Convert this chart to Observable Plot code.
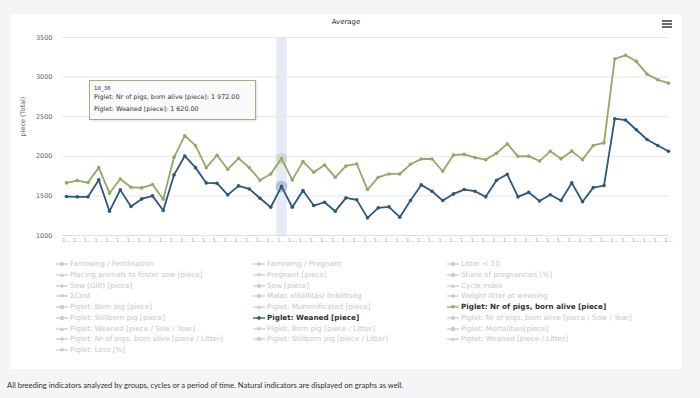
<!DOCTYPE html>
<html>
<head>
<meta charset="utf-8">
<script src="https://cdn.jsdelivr.net/npm/d3@7"></script>
<script src="https://cdn.jsdelivr.net/npm/@observablehq/plot@0.6"></script>
<style>
  html, body { margin: 0; padding: 0; }
  body { width: 700px; height: 398px; background: #f4f5f7; position: relative; overflow: hidden; font-family: "DejaVu Sans", Verdana, sans-serif; }
  #card { position: absolute; left: 10px; top: 14px; width: 672px; height: 355px; background: #ffffff; box-shadow: 0 0 1px rgba(0,0,0,0.06); }
  #chart { position: absolute; left: 0; top: 0; }
  #title { position: absolute; left: 0; width: 692px; top: 18px; text-align: center; font-size: 7px; color: #333; }
  #menu { position: absolute; left: 662px; top: 20px; width: 10px; }
  #menu div { height: 1.6px; background: #666; margin-bottom: 1.4px; }
  #tooltip { position: absolute; left: 89px; top: 80px; width: 165px; height: 38px; border: 1px solid #a3ad83; background: rgba(250,250,250,0.9); box-shadow: 1px 1px 2px rgba(0,0,0,0.12); color: #333; }
  #tooltip .h { position: absolute; left: 4px; top: 4px; font-size: 5.5px; color: #333; }
  #tooltip .l { position: absolute; left: 4px; font-size: 6.4px; white-space: nowrap; color: #333; }
  .leg { position: absolute; font-size: 7.2px; color: #c6c6c6; white-space: nowrap; line-height: 8px; }
  .leg svg { position: absolute; left: 0; top: 0; }
  .leg span { position: absolute; left: 14px; top: 0; }
  .leg.active { color: #333; font-weight: bold; }
  #caption { position: absolute; left: 7px; top: 380px; font-family: Lato, sans-serif; font-size: 7.6px; color: #333; white-space: nowrap; }
</style>
</head>
<body>
<div id="card"></div>
<div id="chart"></div>
<div id="title">Average</div>
<div id="menu"><div></div><div></div><div></div></div>
<div id="tooltip"></div>
<div id="legend"></div>
<div id="caption">All breeding indicators analyzed by groups, cycles or a period of time. Natural indicators are displayed on graphs as well.</div>
<script>
const categories = [
  "18_16","18_17","18_18","18_19","18_20","18_21","18_22","18_23","18_24","18_25",
  "18_26","18_27","18_28","18_29","18_30","18_31","18_32","18_33","18_34","18_35",
  "18_36","18_37","18_38","18_39","18_40","18_41","18_42","18_43","18_44","18_45",
  "18_46","18_47","18_48","18_49","18_50","18_51","18_52","19_01","19_02","19_03",
  "19_04","19_05","19_06","19_07","19_08","19_09","19_10","19_11","19_12","19_13",
  "19_14","19_15","19_16","19_17","19_18","19_19","19_20"
];
const bornAlive = [
  1664,1693,1668,1857,1534,1714,1609,1601,1643,1458,
  1987,2260,2134,1857,2013,1836,1975,1857,1698,1777,
  1972,1702,1933,1798,1891,1735,1878,1903,1580,1735,
  1777,1777,1899,1966,1966,1811,2017,2025,1983,1958,
  2038,2157,2000,2002,1940,2063,1968,2065,1958,2137,
  2169,3229,3275,3199,3038,2966,2924
];
const weaned = [
  1492,1488,1488,1702,1307,1576,1366,1462,1500,1315,
  1765,2004,1857,1664,1660,1513,1626,1588,1471,1357,
  1620,1357,1567,1378,1420,1307,1475,1450,1223,1349,
  1362,1231,1441,1639,1559,1441,1525,1580,1559,1488,
  1698,1773,1488,1544,1435,1515,1441,1664,1427,1605,
  1630,2475,2458,2335,2212,2136,2064
];
const seriesNames = ["Piglet: Nr of pigs, born alive [piece]", "Piglet: Weaned [piece]"];
const seriesColors = ["#90aa66", "#2d5878"];
const yTicks = [1000, 1500, 2000, 2500, 3000, 3500];
const hoverCategory = "18_36";
const legendItems = [
  "Farrowing / Fertilisation", "Farrowing / Pregnant", "Litter < 10",
  "Placing animals to foster sow [piece]", "Pregnant [piece]", "Share of pregnancies [%]",
  "Sow (Gilt) [piece]", "Sow [piece]", "Cycle index",
  "ΣCost", "Malac előállítási önköltség", "Weight litter at weaning",
  "Piglet: Born pig [piece]", "Piglet: Mummificated [piece]", "Piglet: Nr of pigs, born alive [piece]",
  "Piglet: Stillborn pig [piece]", "Piglet: Weaned [piece]", "Piglet: Nr of pigs, born alive [piece / Sow / Year]",
  "Piglet: Weaned [piece / Sow / Year]", "Piglet: Born pig [piece / Litter]", "Piglet: Mortalities[piece]",
  "Piglet: Nr of pigs, born alive [piece / Litter]", "Piglet: Stillborn pig [piece / Litter]", "Piglet: Weaned [piece / Litter]",
  "Piglet: Loss [%]"
];

const rows = categories.map((c, i) => ({cat: c, alive: bornAlive[i], weaned: weaned[i]}));
const hovered = rows.filter(d => d.cat === hoverCategory);

const chart = Plot.plot({
  width: 700,
  height: 250,
  marginLeft: 66,
  marginRight: 32,
  marginTop: 37,
  marginBottom: 15,
  style: {background: "transparent", fontFamily: "DejaVu Sans, Verdana, sans-serif", color: "#666"},
  x: {type: "point", domain: categories, padding: 0, label: null},
  y: {domain: [1000, 3500], label: null},
  marks: [
    Plot.ruleX([hoverCategory], {x: d => d, y1: 1000, y2: 3500, stroke: "#ccd6eb", strokeOpacity: 0.5, strokeWidth: 10.5}),
    Plot.ruleY(yTicks, {y: d => d, stroke: "#e6e6e6", strokeWidth: 1, insetLeft: -4}),
    Plot.ruleY([1000], {y: d => d, stroke: "#d8dde8", strokeWidth: 1, insetLeft: -4}),
    Plot.axisY({ticks: yTicks, tickSize: 0, tickPadding: 14, fontSize: 6.5, fill: "#666", label: null,
      tickFormat: d => String(d)}),
    Plot.axisX({ticks: categories, tickSize: 0, tickPadding: 3, fontSize: 5.6, fill: "#aaa", label: null,
      tickFormat: d => d.slice(0, 1) + "…"}),
    Plot.text(["piece (Total)"], {frameAnchor: "left", dx: -44, rotate: -90, fontSize: 6.5, fill: "#666"}),
    Plot.dot(hovered, {x: "cat", y: "alive", r: 6, fill: seriesColors[0], fillOpacity: 0.25}),
    Plot.dot(hovered, {x: "cat", y: "weaned", r: 6, fill: seriesColors[1], fillOpacity: 0.25}),
    Plot.line(rows, {x: "cat", y: "alive", stroke: seriesColors[0], strokeWidth: 1.8}),
    Plot.dot(rows, {x: "cat", y: "alive", r: 1.8, fill: seriesColors[0]}),
    Plot.line(rows, {x: "cat", y: "weaned", stroke: seriesColors[1], strokeWidth: 1.8}),
    Plot.dot(rows, {x: "cat", y: "weaned", r: 1.8, fill: seriesColors[1]})
  ]
});
document.getElementById("chart").appendChild(chart);

// tooltip built from data
const fmt = v => d3.format(",.2f")(v).replace(/,/g, " ");
const tip = document.getElementById("tooltip");
const h = hovered[0];
tip.innerHTML = `<div class="h">${h.cat}</div>` +
  `<div class="l" style="top:12px">${seriesNames[0]}: ${fmt(h.alive)}</div>` +
  `<div class="l" style="top:24px">${seriesNames[1]}: ${fmt(h.weaned)}</div>`;

// legend
const legend = document.getElementById("legend");
const colX = [56, 253, 447];
const symbols = ["circle", "diamond", "square", "triangle", "triangle-down"];
function symbolPath(s, cx, cy) {
  const r = 2.2;
  if (s === "circle") return `<circle cx="${cx}" cy="${cy}" r="${r}"/>`;
  if (s === "diamond") return `<path d="M${cx},${cy-r} L${cx+r},${cy} L${cx},${cy+r} L${cx-r},${cy} Z"/>`;
  if (s === "square") return `<rect x="${cx-r*0.85}" y="${cy-r*0.85}" width="${r*1.7}" height="${r*1.7}"/>`;
  if (s === "triangle") return `<path d="M${cx},${cy-r} L${cx+r},${cy+r*0.8} L${cx-r},${cy+r*0.8} Z"/>`;
  return `<path d="M${cx},${cy+r} L${cx+r},${cy-r*0.8} L${cx-r},${cy-r*0.8} Z"/>`;
}
legendItems.forEach((name, i) => {
  const col = i % 3, row = Math.floor(i / 3);
  const idx = seriesNames.indexOf(name);
  const color = idx >= 0 ? seriesColors[idx] : "#cccccc";
  const el = document.createElement("div");
  el.className = "leg" + (idx >= 0 ? " active" : "");
  el.style.left = colX[col] + "px";
  el.style.top = (260 + row * 10.75) + "px";
  el.innerHTML = `<svg width="13" height="8"><line x1="0" x2="12" y1="4" y2="4" stroke="${color}" stroke-width="1.3"/>` +
    `<g fill="${color}">${symbolPath(symbols[i % 5], 6, 4)}</g></svg><span>${name}</span>`;
  legend.appendChild(el);
});
</script>
</body>
</html>
